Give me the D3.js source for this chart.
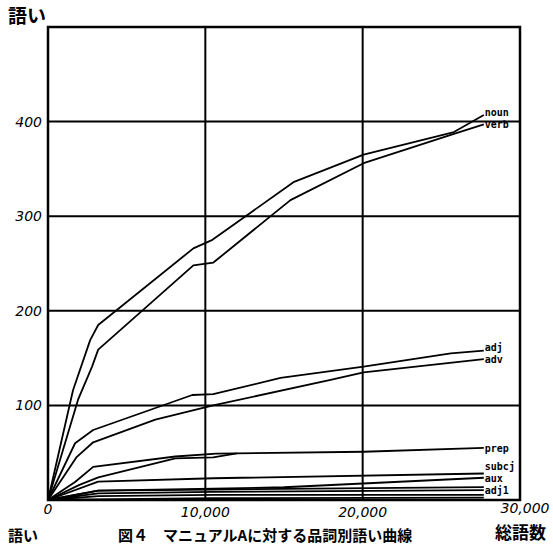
<!DOCTYPE html>
<html>
<head>
<meta charset="utf-8">
<script src="https://cdn.jsdelivr.net/npm/d3@7"></script>
<style>
  body { margin: 0; background: #fff; }
  svg { display: block; }
  .tick-label { font-family: 'DejaVu Sans', sans-serif; font-style: italic; font-size: 14px; }
  .series-label { font-family: 'DejaVu Sans Mono', monospace; font-weight: bold; font-size: 10px; }
  .jp { font-family: 'Noto Sans CJK JP', sans-serif; font-weight: bold; }
</style>
</head>
<body>
<div id="chart"></div>
<script>
(function () {
  'use strict';

  // total words (x) vs. vocabulary (y)
  var nounData  = [[0, 0], [1590, 116], [2680, 169], [3190, 185], [9240, 266], [10450, 275], [15600, 336], [20060, 365], [25800, 389], [27700, 407]];
  var verbData  = [[0, 0], [1910, 106], [2800, 141], [3190, 159], [9240, 248], [10510, 251], [15410, 317], [20060, 356], [25800, 387], [27700, 397]];
  var adjData   = [[0, 0], [1720, 60], [2870, 74], [9170, 111], [10500, 112], [14780, 129], [20060, 141], [25600, 155], [27700, 158]];
  var advData   = [[0, 0], [1800, 45], [2870, 61], [6820, 85], [10500, 100], [17960, 127], [20060, 135], [27700, 149]];
  var prepData  = [[0, 0], [1720, 19], [2870, 35], [8090, 46], [10700, 49], [20060, 51], [27700, 55]];
  var prep2Data = [[0, 0], [2000, 16], [3200, 24], [8090, 44], [10500, 45], [12000, 49.3]];
  var subcjData = [[0, 0], [3190, 19.5], [10500, 23], [27700, 28]];
  var subcj2Data = [[0, 0], [3190, 10], [10500, 12], [15000, 13.5], [27700, 23.5]];
  var auxData   = [[0, 0], [3190, 10], [10500, 11], [27700, 13.7]];
  var adj1Data  = [[0, 0], [3190, 7], [10500, 8.5], [27700, 10.5]];
  var misc1Data = [[0, 0], [3190, 4], [10500, 5.5], [27700, 5.5]];
  var misc2Data = [[0, 0], [10500, 2], [27700, 2.5]];

  var seriesNames = ['noun', 'verb', 'adj', 'adv', 'prep', '', 'subcj', '', 'aux', 'adj1', '', ''];
  var seriesData = [nounData, verbData, adjData, advData, prepData, prep2Data,
    subcjData, subcj2Data, auxData, adj1Data, misc1Data, misc2Data];

  var yTicks = [100, 200, 300, 400];
  var xTicks = [10000, 20000];
  var xTickLabels = ['10,000', '20,000'];

  var width = 553,
  height = 545,
  left = 48, right = 520, top = 27, bottom = 500,
  labelGap = 12;

  var x = d3.scaleLinear().domain([0, 30000]).range([left, right]);
  var y = d3.scaleLinear().domain([0, 500]).range([bottom, top]);

  var svg = d3.select('#chart')
  .append('svg')
  .attr('width', width)
  .attr('height', height);

  // grid
  var grid = svg.append('g').attr('class', 'grid');

  grid.selectAll('.hline')
  .data(yTicks)
  .enter()
  .append('line')
  .attr('x1', left)
  .attr('x2', right)
  .attr('y1', function (d) { return y(d); })
  .attr('y2', function (d) { return y(d); })
  .attr('stroke', '#000')
  .attr('stroke-width', 2);

  grid.selectAll('.vline')
  .data(xTicks)
  .enter()
  .append('line')
  .attr('x1', function (d) { return x(d); })
  .attr('x2', function (d) { return x(d); })
  .attr('y1', top)
  .attr('y2', bottom)
  .attr('stroke', '#000')
  .attr('stroke-width', 2);

  svg.append('rect')
  .attr('x', left)
  .attr('y', top)
  .attr('width', right - left)
  .attr('height', bottom - top)
  .attr('fill', 'none')
  .attr('stroke', '#000')
  .attr('stroke-width', 2.5);

  // curves
  var line = d3.line()
  .x(function (d) { return x(d[0]); })
  .y(function (d) { return y(d[1]); });

  svg.append('g')
  .selectAll('path')
  .data(seriesData)
  .enter()
  .append('path')
  .attr('d', line)
  .attr('fill', 'none')
  .attr('stroke', '#000')
  .attr('stroke-width', 1.8)
  .attr('stroke-linejoin', 'round');

  // end labels, nudged apart from the bottom up so they don't pile on each other
  var labels = seriesData.map(function (d, i) {
    var last = d[d.length - 1];
    return { name: seriesNames[i], x: x(last[0]) + 1, y: y(last[1]) + 4 };
  }).filter(function (d) { return d.name; });

  labels.sort(function (a, b) { return b.y - a.y; });
  var prevY = bottom - 4 + labelGap;
  labels.forEach(function (d) {
    d.y = Math.min(d.y, prevY - labelGap);
    prevY = d.y;
  });

  svg.append('g')
  .selectAll('text')
  .data(labels)
  .enter()
  .append('text')
  .attr('class', 'series-label')
  .attr('x', function (d) { return d.x; })
  .attr('y', function (d) { return d.y; })
  .text(function (d) { return d.name; });

  // tick labels
  svg.append('g')
  .selectAll('text')
  .data(yTicks)
  .enter()
  .append('text')
  .attr('class', 'tick-label')
  .attr('x', left - 6)
  .attr('y', function (d) { return y(d) + 5; })
  .attr('text-anchor', 'end')
  .text(function (d) { return d; });

  svg.append('text')
  .attr('class', 'tick-label')
  .attr('x', left)
  .attr('y', bottom + 14)
  .attr('text-anchor', 'middle')
  .text('0');

  svg.append('g')
  .selectAll('text')
  .data(xTicks)
  .enter()
  .append('text')
  .attr('class', 'tick-label')
  .attr('x', function (d) { return x(d); })
  .attr('y', bottom + 17)
  .attr('text-anchor', 'middle')
  .text(function (d, i) { return xTickLabels[i]; });

  svg.append('text')
  .attr('class', 'tick-label')
  .attr('x', 525)
  .attr('y', 513)
  .attr('text-anchor', 'middle')
  .text('30,000');

  // titles
  svg.append('text')
  .attr('class', 'jp')
  .attr('x', 8)
  .attr('y', 23)
  .attr('font-size', 19)
  .text('語い');

  svg.append('text')
  .attr('class', 'jp')
  .attr('x', 546)
  .attr('y', 539)
  .attr('text-anchor', 'end')
  .attr('font-size', 17)
  .text('総語数');

  svg.append('text')
  .attr('class', 'jp')
  .attr('x', 8)
  .attr('y', 541)
  .attr('font-size', 15)
  .text('語い');

  svg.append('text')
  .attr('class', 'jp')
  .attr('x', 118)
  .attr('y', 541)
  .attr('font-size', 15)
  .text('図４　マニュアルAに対する品詞別語い曲線');
}());
</script>
</body>
</html>
